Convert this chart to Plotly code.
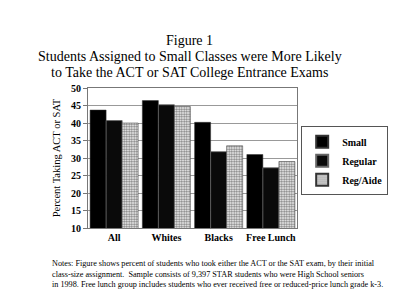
import plotly.graph_objects as go

categories = ["All", "Whites", "Blacks", "Free Lunch"]
small = [43.7, 46.4, 40.2, 31.0]
regular = [40.7, 45.2, 31.8, 27.2]
reg_aide = [40.0, 44.7, 33.5, 29.0]
y_ticks = [10, 15, 20, 25, 30, 35, 40, 45, 50]
title_lines = ["Figure 1",
               "Students Assigned to Small Classes were More Likely",
               "to Take the ACT or SAT College Entrance Exams"]

serif = "Liberation Serif, Times New Roman, serif"

fig = go.Figure()
fig.add_trace(go.Bar(name="<b>Small</b>", x=categories, y=small,
                     marker=dict(color="black", line=dict(color="#333", width=0.5))))
fig.add_trace(go.Bar(name="<b>Regular</b>", x=categories, y=regular,
                     marker=dict(color="#0a0a0a", line=dict(color="#666", width=0.8))))
fig.add_trace(go.Bar(name="<b>Reg/Aide</b>", x=categories, y=reg_aide,
                     marker=dict(color="white", line=dict(color="#333", width=0.5),
                                 pattern=dict(shape=".", fgcolor="black", bgcolor="white",
                                              size=2.5, solidity=0.55))))

fig.update_layout(
    width=400, height=307,
    margin=dict(l=88, r=82, t=88, b=79),
    paper_bgcolor="white", plot_bgcolor="white",
    barmode="group", bargap=0.08, bargroupgap=0,
    font=dict(family=serif, color="black"),
    legend=dict(x=1.02, xanchor="left", y=0.48, yanchor="middle",
                bordercolor="#555", borderwidth=1, bgcolor="white",
                font=dict(family=serif, size=10, color="black"),
                tracegroupgap=0, itemwidth=30, itemsizing="constant"),
    showlegend=True,
)
fig.update_yaxes(range=[10, 50], tickvals=y_ticks, ticktext=[f"<b>{v}</b>" for v in y_ticks],
                 showgrid=True, gridcolor="#999", gridwidth=0.8,
                 showline=True, linecolor="#777", mirror=True, ticks="outside", ticklen=4,
                 tickcolor="#777",
                 tickfont=dict(family=serif, size=10, color="black"),
                 title=dict(text="Percent Taking ACT or SAT", font=dict(family=serif, size=10.5), standoff=8))
fig.update_xaxes(tickvals=categories, ticktext=[f"<b>{c}</b>" for c in categories],
                 showline=True, linecolor="#777", mirror=True,
                 tickfont=dict(family=serif, size=10, color="black"))

title_y = [40, 57, 73]
for txt, py in zip(title_lines, title_y):
    fig.add_annotation(text=txt, xref="paper", yref="paper",
                       x=(200 - 88) / 230, y=(228 - py) / 140,
                       xanchor="center", yanchor="middle", showarrow=False,
                       font=dict(family=serif, size=14, color="black"))

notes = ("Notes: Figure shows percent of students who took either the ACT or the SAT exam, by their initial<br>"
         "class-size assignment.  Sample consists of 9,397 STAR students who were High School seniors<br>"
         "in 1998. Free lunch group includes students who ever received free or reduced-price lunch grade k-3.")
fig.add_annotation(text=notes, xref="paper", yref="paper", x=(46 - 88) / 230, y=(228 - 257) / 140,
                   xanchor="left", yanchor="top", showarrow=False, align="left",
                   font=dict(family=serif, size=8.2, color="black"))

fig.write_html("out.html")
